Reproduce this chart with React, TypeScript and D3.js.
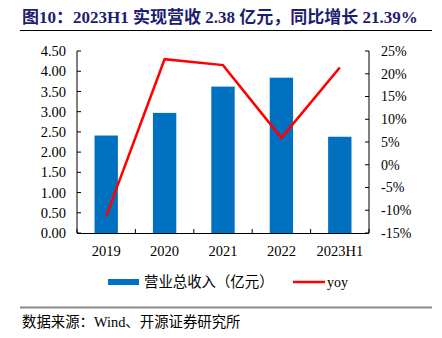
import React from "react";
import * as d3 from "d3";

const categories = ["2019", "2020", "2021", "2022", "2023H1"];
const revenue = [2.41, 2.97, 3.62, 3.84, 2.38];
const yoy = [-11.3, 23.2, 21.9, 5.9, 21.39];
const leftTicks = [0, 0.5, 1, 1.5, 2, 2.5, 3, 3.5, 4, 4.5];
const rightTicks = [-15, -10, -5, 0, 5, 10, 15, 20, 25];

const titleText = "图10：2023H1 实现营收 2.38 亿元，同比增长 21.39%";
const legendBar = "营业总收入（亿元）";
const legendLine = "yoy";
const sourceText = "数据来源：Wind、开源证券研究所";

const W = 442;
const H = 338;
const left = 77;
const right = 369;
const top = 51;
const bottom = 233;

const serif = "'Times New Roman', 'Liberation Serif', 'Noto Sans CJK SC', serif";

export default function App() {
  const x = d3.scaleBand<string>().domain(categories).range([left, right]).padding(0);
  const yL = d3.scaleLinear().domain([0, 4.5]).range([bottom, top]);
  const yR = d3.scaleLinear().domain([-15, 25]).range([bottom, top]);
  const bw = x.bandwidth() * 0.4;
  const line = d3
    .line<number>()
    .x((_, i) => (x(categories[i]) as number) + x.bandwidth() / 2)
    .y((d) => yR(d));

  const boundaries = categories.map((c) => x(c) as number).concat([right]);

  return (
    <svg
      width={W}
      height={H}
      style={{ position: "absolute", left: 0, top: 0, background: "#fff" }}
      fontFamily={serif}
    >
      <text x={22} y={23} fontSize={17} fontWeight="bold" fill="#1c2070">
        {titleText}
      </text>
      <line x1={20} x2={432} y1={30.5} y2={30.5} stroke="#000" strokeWidth={1} />

      {categories.map((c, i) => (
        <rect
          key={c}
          x={(x(c) as number) + (x.bandwidth() - bw) / 2}
          y={yL(revenue[i])}
          width={bw}
          height={bottom - yL(revenue[i])}
          fill="#0070C0"
        />
      ))}

      {/* left axis */}
      <line x1={left} x2={left} y1={top} y2={bottom} stroke="#000" strokeWidth={1} />
      {leftTicks.map((t) => (
        <g key={t}>
          <line x1={left} x2={left + 4} y1={yL(t)} y2={yL(t)} stroke="#000" />
          <text x={66} y={yL(t)} dy="0.35em" textAnchor="end" fontSize={14.5} fill="#000">
            {t.toFixed(2)}
          </text>
        </g>
      ))}

      {/* right axis */}
      <line x1={right} x2={right} y1={top} y2={bottom} stroke="#000" strokeWidth={1} />
      {rightTicks.map((t) => (
        <g key={t}>
          <line x1={right - 4} x2={right} y1={yR(t)} y2={yR(t)} stroke="#000" />
          <text x={381} y={yR(t)} dy="0.35em" textAnchor="start" fontSize={14} fill="#000">
            {t + "%"}
          </text>
        </g>
      ))}

      {/* bottom axis */}
      <line x1={left} x2={right} y1={bottom + 0.5} y2={bottom + 0.5} stroke="#000" strokeWidth={1} />
      {boundaries.map((b, i) => (
        <line key={i} x1={b} x2={b} y1={bottom - 4} y2={bottom} stroke="#000" />
      ))}
      {categories.map((c) => (
        <text
          key={c}
          x={(x(c) as number) + x.bandwidth() / 2}
          y={256}
          textAnchor="middle"
          fontSize={14.5}
          fill="#000"
        >
          {c}
        </text>
      ))}

      <path d={line(yoy) || ""} fill="none" stroke="#FF0000" strokeWidth={2.5} strokeLinejoin="miter" />

      {/* legend */}
      <rect x={108} y={279} width={31} height={6} fill="#0070C0" />
      <text x={144} y={287} fontSize={14.4} fill="#000">
        {legendBar}
      </text>
      <line x1={293} x2={325} y1={282} y2={282} stroke="#FF0000" strokeWidth={2.5} />
      <text x={327} y={286.5} fontSize={14} fill="#000">
        {legendLine}
      </text>

      <line x1={20} x2={432} y1={307.5} y2={307.5} stroke="#888" strokeWidth={2} />
      <text x={22} y={326.5} fontSize={14.4} fill="#000">
        {sourceText}
      </text>
    </svg>
  );
}
